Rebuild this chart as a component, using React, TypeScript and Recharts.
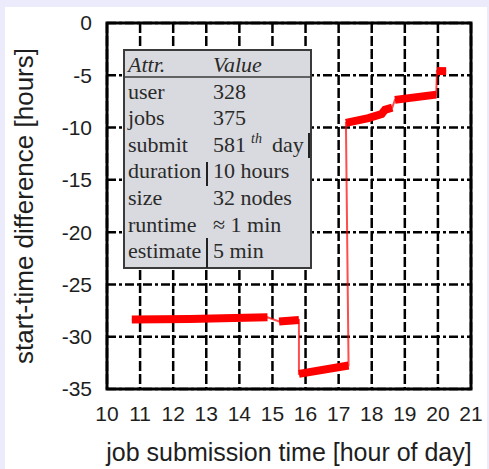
import React from "react";
import { LineChart, Line, XAxis, YAxis, CartesianGrid } from "recharts";

// axis ticks
const hourTicks = [10, 11, 12, 13, 14, 15, 16, 17, 18, 19, 20, 21];
const diffTicks = [0, -5, -10, -15, -20, -25, -30, -35];

// start-time difference per submission cluster (hour of day, hours)
const morningRun = [
  { x: 10.75, y: -28.35 },
  { x: 12.5, y: -28.3 },
  { x: 14.85, y: -28.15 },
];
const afternoonRun = [
  { x: 15.2, y: -28.55 },
  { x: 15.8, y: -28.4 },
];
const dipRun = [
  { x: 15.8, y: -33.55 },
  { x: 17.3, y: -32.75 },
];
const eveningRun = [
  { x: 17.22, y: -9.55 },
  { x: 17.9, y: -9.1 },
  { x: 18.3, y: -8.7 },
  { x: 18.4, y: -8.3 },
  { x: 18.62, y: -8.1 },
];
const nightRun = [
  { x: 18.7, y: -7.35 },
  { x: 19.95, y: -6.85 },
];
const lastRun = [
  { x: 19.97, y: -4.6 },
  { x: 20.25, y: -4.6 },
];

// thin connecting trace through all clusters
const trace = [...morningRun, ...afternoonRun, ...dipRun, ...eveningRun, ...nightRun, ...lastRun];

const attrRows = [
  ["user", "328"],
  ["jobs", "375"],
  ["submit", ""],
  ["duration", "10 hours"],
  ["size", "32 nodes"],
  ["runtime", "≈ 1 min"],
  ["estimate", "5 min"],
];

const sans = "'Liberation Sans', Arial, sans-serif";
const serif = "'Liberation Serif', 'Times New Roman', serif";
const ink = "#1e1e1e";

// plot box, matches the chart margins below
const box = { left: 107, top: 23, right: 471, bottom: 389 };

function AttrTable() {
  const base = (i: number) => 98.5 + i * 26.6;
  return (
    <g fontFamily={serif} fontSize={22} fill="#2a2a2a">
      <rect x={124} y={50} width={187} height={218} fill="#d9dadf" stroke="#3a3a3a" strokeWidth={2} />
      <line x1={124} x2={311} y1={77} y2={77} stroke="#3a3a3a" strokeWidth={1.5} />
      <text x={128} y={72} fontStyle="italic">Attr.</text>
      <text x={213} y={72} fontStyle="italic">Value</text>
      {attrRows.map(([k, v], i) => (
        <g key={k}>
          <text x={128} y={base(i)}>{k}</text>
          {v && <text x={213} y={base(i)}>{v}</text>}
        </g>
      ))}
      <text x={213} y={base(2)}>581</text>
      <text x={251} y={base(2) - 9} fontSize={14} fontStyle="italic">th</text>
      <text x={272} y={base(2)}>day</text>
      <line x1={309} x2={309} y1={133} y2={158} stroke="#222" strokeWidth={2} />
      <line x1={207} x2={207} y1={162} y2={186} stroke="#222" strokeWidth={2} />
      <line x1={207} x2={207} y1={238} y2={268} stroke="#222" strokeWidth={2} />
    </g>
  );
}

export default function App() {
  const thick = { stroke: "#ff0000", strokeWidth: 8, dot: false, isAnimationActive: false, strokeLinecap: "butt" as const };
  return (
    <div style={{ position: "absolute", left: 0, top: 0, width: 489, height: 469, background: "#ebebfb", overflow: "hidden" }}>
      <div style={{ position: "absolute", left: 5, top: 7, width: 482, height: 462, background: "#fff" }} />
      <div style={{ position: "absolute", left: 0, top: 0 }}>
        <LineChart width={489} height={469} margin={{ top: 23, right: 18, bottom: 50, left: 47 }}>
          <CartesianGrid horizontal={false} stroke="#000" strokeWidth={2.5} strokeDasharray="10 3" />
          <CartesianGrid vertical={false} stroke="#000" strokeWidth={2.5} strokeDasharray="9 3 3 3" />
          <XAxis
            type="number"
            dataKey="x"
            height={30}
            domain={[10, 21]}
            ticks={hourTicks}
            interval={0}
            allowDataOverflow
            axisLine={false}
            tickLine={false}
            tickSize={0}
            tickMargin={17}
            tick={{ fontSize: 21, fill: ink, fontFamily: sans }}
          />
          <YAxis
            type="number"
            dataKey="y"
            width={60}
            domain={[-35, 0]}
            ticks={diffTicks}
            interval={0}
            allowDataOverflow
            axisLine={false}
            tickLine={false}
            tickSize={0}
            tickMargin={15}
            tick={{ fontSize: 21, fill: ink, fontFamily: sans }}
          />
          <Line data={trace} dataKey="y" stroke="#ff0000" strokeOpacity={0.7} strokeWidth={2} dot={false} isAnimationActive={false} />
          <Line data={morningRun} dataKey="y" {...thick} />
          <Line data={afternoonRun} dataKey="y" {...thick} />
          <Line data={dipRun} dataKey="y" {...thick} />
          <Line data={eveningRun} dataKey="y" {...thick} />
          <Line data={nightRun} dataKey="y" {...thick} />
          <Line data={lastRun} dataKey="y" {...thick} />
        </LineChart>
      </div>
      <svg width={489} height={469} style={{ position: "absolute", left: 0, top: 0, pointerEvents: "none" }}>
        <rect
          x={box.left}
          y={box.top}
          width={box.right - box.left}
          height={box.bottom - box.top}
          fill="none"
          stroke="#000"
          strokeWidth={3}
        />
        <AttrTable />
        <text x={289} y={461} textAnchor="middle" fontFamily={sans} fontSize={25} fill={ink}>
          job submission time [hour of day]
        </text>
        <text
          transform="translate(33,206) rotate(-90)"
          textAnchor="middle"
          fontFamily={sans}
          fontSize={26}
          fill={ink}
        >
          start-time difference [hours]
        </text>
      </svg>
    </div>
  );
}
